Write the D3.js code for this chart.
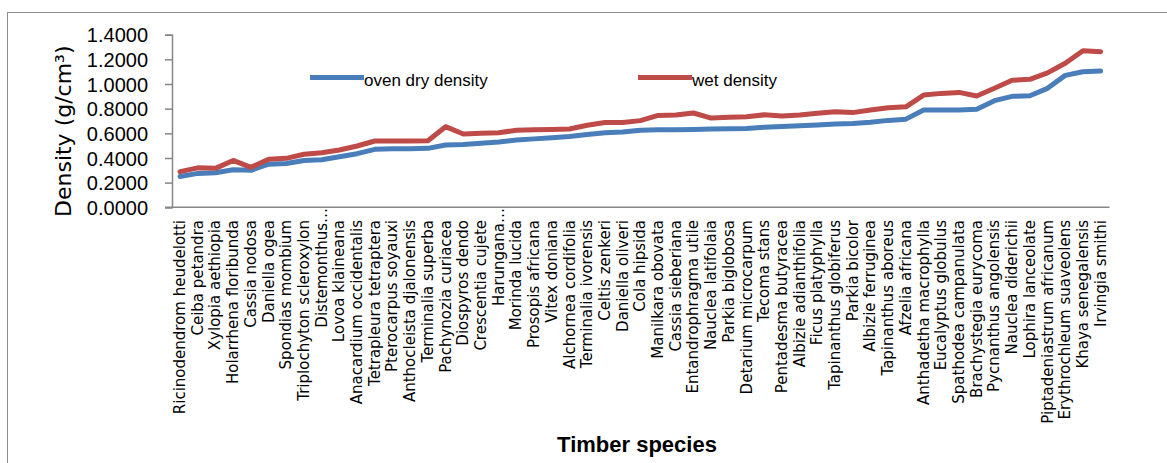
<!DOCTYPE html>
<html>
<head>
<meta charset="utf-8">
<script src="https://cdn.jsdelivr.net/npm/d3@7"></script>
<style>
  html, body { margin: 0; padding: 0; background: #fff; }
  svg { display: block; }
</style>
</head>
<body>
<svg id="chart" width="1167" height="463"></svg>
<script>
// Timber species, ordered by increasing oven dry density
const species = [
  "Ricinodendrom heudelotti", "Ceiba petandra", "Xylopia aethiopia", "Holarrhena floribunda",
  "Cassia nodosa", "Daniella ogea", "Spondias mombium", "Triplochyton scleroxylon",
  "Distemonthus…", "Lovoa klaineana", "Anacardium occidentalis", "Tetrapleura tetraptera",
  "Pterocarpus soyauxi", "Anthocleista djalonensis", "Terminalia superba", "Pachynozia curiacea",
  "Diospyros dendo", "Crescentia cujete", "Harungana…", "Morinda lucida",
  "Prosopis africana", "Vitex doniana", "Alchornea cordifolia", "Terminalia ivorensis",
  "Celtis zenkeri", "Daniella oliveri", "Cola hipsida", "Manilkara obovata",
  "Cassia sieberiana", "Entandrophragma utile", "Nauclea latifolaia", "Parkia biglobosa",
  "Detarium microcarpum", "Tecoma stans", "Pentadesma butyracea", "Albizie adianthifolia",
  "Ficus platyphylla", "Tapinanthus globiferus", "Parkia bicolor", "Albizie ferruginea",
  "Tapinanthus aboreus", "Afzelia africana", "Anthadetha macrophylla", "Eucalyptus globulus",
  "Spathodea campanulata", "Brachystegia eurycoma", "Pycnanthus angolensis", "Nauclea diderichii",
  "Lophira lanceolate", "Piptadeniastrum africanum", "Erythrochleum suaveolens", "Khaya senegalensis",
  "Irvingia smithi"
];

// Oven dry density (g/cm3)
const ovenDry = [
  0.250, 0.275, 0.280, 0.305, 0.300, 0.350, 0.355, 0.380, 0.385, 0.410,
  0.435, 0.470, 0.475, 0.475, 0.478, 0.505, 0.510, 0.520, 0.530, 0.545,
  0.555, 0.565, 0.575, 0.590, 0.605, 0.610, 0.625, 0.630, 0.630, 0.632,
  0.635, 0.638, 0.640, 0.650, 0.655, 0.662, 0.668, 0.675, 0.680, 0.690,
  0.705, 0.715, 0.789, 0.790, 0.790, 0.795, 0.865, 0.900, 0.905, 0.965,
  1.070, 1.100, 1.105
];

// Wet density (g/cm3)
const wet = [
  0.289, 0.320, 0.316, 0.380, 0.324, 0.389, 0.397, 0.430, 0.443, 0.465,
  0.497, 0.538, 0.538, 0.538, 0.540, 0.654, 0.594, 0.600, 0.605, 0.625,
  0.630, 0.632, 0.635, 0.665, 0.688, 0.688, 0.703, 0.745, 0.748, 0.765,
  0.724, 0.730, 0.735, 0.750, 0.740, 0.749, 0.762, 0.775, 0.768, 0.789,
  0.808, 0.815, 0.910, 0.924, 0.932, 0.903, 0.965, 1.030, 1.038, 1.090,
  1.168, 1.270, 1.262
];

const yTicks = [0, 0.2, 0.4, 0.6, 0.8, 1.0, 1.2, 1.4];

const seriesNames = ["oven dry density", "wet density"];
const seriesColors = ["#4a7ebb", "#be4b48"];

const svg = d3.select("#chart");

// outer chart frame
svg.append("rect")
  .attr("x", 7.5).attr("y", 12.5)
  .attr("width", 1200).attr("height", 480)
  .attr("fill", "none").attr("stroke", "#8c8c8c").attr("stroke-width", 1);

const x = d3.scaleBand().domain(species).range([171.2, 1109.5]);
const y = d3.scaleLinear().domain([0, 1.4]).range([207.3, 34.7]);
const cx = d => x(d) + x.bandwidth() / 2;

// y axis
const yAxis = svg.append("g")
  .attr("transform", "translate(172,0)")
  .call(d3.axisLeft(y).tickValues(yTicks).tickFormat(d3.format(".4f")).tickSize(7).tickPadding(17));
yAxis.select(".domain").attr("stroke", "#868686").attr("stroke-width", 1.5);
yAxis.selectAll(".tick line").attr("stroke", "#868686").attr("stroke-width", 1.5);
yAxis.selectAll(".tick text")
  .attr("font-family", "'Liberation Sans', Arial, sans-serif")
  .attr("font-size", 20).attr("fill", "#000").attr("dy", "0.36em");

// x axis line
svg.append("line")
  .attr("x1", 165).attr("x2", 1109.5)
  .attr("y1", y(0)).attr("y2", y(0))
  .attr("stroke", "#868686").attr("stroke-width", 1.5);

// category labels, rotated
svg.append("g").selectAll("text")
  .data(species)
  .join("text")
  .attr("transform", d => `translate(${cx(d) + 5},${d.endsWith("…") ? 208 : 220}) rotate(-90)`)
  .attr("text-anchor", "end")
  .attr("font-family", "'DejaVu Sans', sans-serif")
  .attr("font-size", 15)
  .attr("fill", "#000")
  .text(d => d);

// lines
const series = [ovenDry, wet];
const line = d3.line()
  .x((v, i) => cx(species[i]))
  .y(v => y(v));

svg.append("g").selectAll("path")
  .data(series)
  .join("path")
  .attr("d", d => line(d))
  .attr("fill", "none")
  .attr("stroke", (d, i) => seriesColors[i])
  .attr("stroke-width", 5)
  .attr("stroke-linejoin", "round")
  .attr("stroke-linecap", "round");

// legend
const legendX = [310, 638];
const legend = svg.append("g").selectAll("g")
  .data(seriesNames)
  .join("g")
  .attr("transform", (d, i) => `translate(${legendX[i]},77.5)`);
legend.append("line")
  .attr("x1", 0).attr("x2", 54)
  .attr("stroke", (d, i) => seriesColors[i])
  .attr("stroke-width", 5);
legend.append("text")
  .attr("x", 54).attr("y", 8.5)
  .attr("font-family", "'Liberation Sans', Arial, sans-serif")
  .attr("font-size", 17)
  .attr("fill", "#000")
  .text(d => d);

// axis titles
svg.append("text")
  .attr("transform", "translate(71,217) rotate(-90)")
  .attr("text-anchor", "start")
  .attr("font-family", "'DejaVu Sans', sans-serif")
  .attr("font-size", 22)
  .attr("fill", "#000")
  .text("Density (g/cm³)");

svg.append("text")
  .attr("x", 637).attr("y", 452)
  .attr("text-anchor", "middle")
  .attr("font-family", "'Liberation Sans', Arial, sans-serif")
  .attr("font-size", 22)
  .attr("font-weight", "bold")
  .attr("fill", "#000")
  .text("Timber species");
</script>
</body>
</html>
